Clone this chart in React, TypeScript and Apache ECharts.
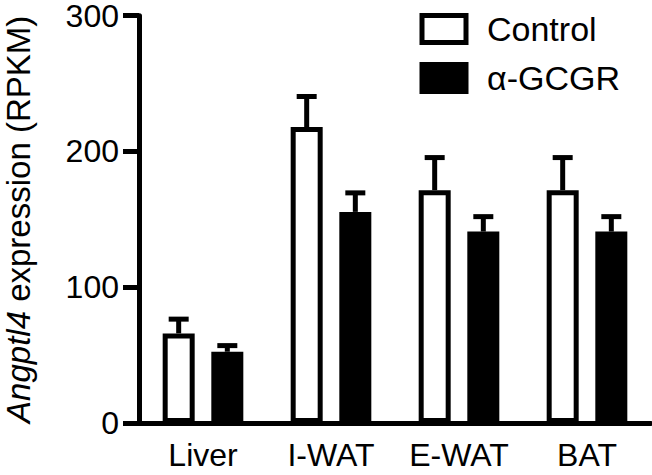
import React, { useEffect, useRef } from "react";
import * as echarts from "echarts";

const categories = ["Liver", "I-WAT", "E-WAT", "BAT"];
const controlMean = [66, 218, 171.5, 171.5];
const controlSem = [10.5, 22.5, 24, 24];
const gcgrMean = [52.5, 155.5, 141, 141];
const gcgrSem = [4.5, 14, 11, 11];
const seriesNames = ["Control", "α-GCGR"];

const FONT = "'Liberation Sans', Arial, Helvetica, sans-serif";
const BAR_W = 32;
const BAR_GAP = 0.52;
const LW = 5;

function errorSeries(name: string, means: number[], sems: number[], side: number) {
  const offset = side * (BAR_W + BAR_W * BAR_GAP) / 2;
  return {
    type: "custom",
    name: name + " SEM",
    z: 3,
    data: means.map((m, i) => [i, m, sems[i]]),
    encode: { x: 0, y: 1 },
    renderItem: (params: any, api: any) => {
      const xi = api.value(0);
      const m = api.value(1);
      const e = api.value(2);
      const base = api.coord([xi, m]);
      const top = api.coord([xi, m + e]);
      const cx = base[0] + offset;
      return {
        type: "group",
        children: [
          {
            type: "line",
            shape: { x1: cx, y1: base[1], x2: cx, y2: top[1] },
            style: { stroke: "#000", lineWidth: LW },
          },
          {
            type: "line",
            shape: { x1: cx - 10, y1: top[1], x2: cx + 10, y2: top[1] },
            style: { stroke: "#000", lineWidth: LW },
          },
        ],
      };
    },
  };
}

export default function App() {
  const ref = useRef<HTMLDivElement>(null);
  useEffect(() => {
    if (!ref.current) return;
    const chart = echarts.init(ref.current, null, { renderer: "svg" });
    chart.setOption({
      animation: false,
      backgroundColor: "#fff",
      grid: {
        left: 139,
        right: 1,
        top: 15.7,
        bottom: 52,
        containLabel: false,
        outerBoundsMode: "none",
      },
      legend: {
        data: seriesNames,
        orient: "vertical",
        left: 419.5,
        top: 12,
        padding: 0,
        itemWidth: 44,
        itemHeight: 27,
        itemGap: 15,
        icon: "rect",
        itemStyle: { borderWidth: LW, borderColor: "#000" },
        textStyle: {
          fontSize: 34,
          fontFamily: FONT,
          color: "#000",
          padding: [0, 0, 0, 16],
        },
      },
      xAxis: {
        type: "category",
        data: categories,
        axisLine: { lineStyle: { color: "#000", width: LW } },
        axisTick: { alignWithLabel: true, interval: 0, length: 16, lineStyle: { color: "#000", width: LW } },
        axisLabel: { interval: 0, fontSize: 32, fontFamily: FONT, color: "#000", margin: 16 },
        splitLine: { show: false },
      },
      yAxis: {
        type: "value",
        min: 0,
        max: 300,
        interval: 100,
        name: "{i|Angptl4} expression (RPKM)",
        nameLocation: "middle",
        nameRotate: 90,
        nameGap: 104,
        nameTextStyle: {
          fontSize: 33,
          fontFamily: FONT,
          color: "#000",
          rich: {
            i: { fontStyle: "italic", fontSize: 33, fontFamily: FONT, color: "#000" },
          },
        },
        axisLine: { show: true, lineStyle: { color: "#000", width: LW } },
        axisTick: { show: true, length: 16, lineStyle: { color: "#000", width: LW } },
        axisLabel: { fontSize: 32, lineHeight: 26, fontFamily: FONT, color: "#000", margin: 20 },
        splitLine: { show: false },
      },
      series: [
        {
          type: "bar",
          name: seriesNames[0],
          data: controlMean,
          barWidth: BAR_W,
          barGap: BAR_GAP * 100 + "%",
          itemStyle: { color: "#fff", borderColor: "#000", borderWidth: LW },
          z: 2,
        },
        {
          type: "bar",
          name: seriesNames[1],
          data: gcgrMean,
          barWidth: BAR_W,
          barGap: BAR_GAP * 100 + "%",
          itemStyle: { color: "#000", borderColor: "#000", borderWidth: LW },
          z: 2,
        },
        errorSeries(seriesNames[0], controlMean, controlSem, -1),
        errorSeries(seriesNames[1], gcgrMean, gcgrSem, 1),
      ],
    });
    return () => chart.dispose();
  }, []);
  return (
    <div
      ref={ref}
      style={{ position: "fixed", left: 0, top: 0, width: 652, height: 475 }}
    />
  );
}
